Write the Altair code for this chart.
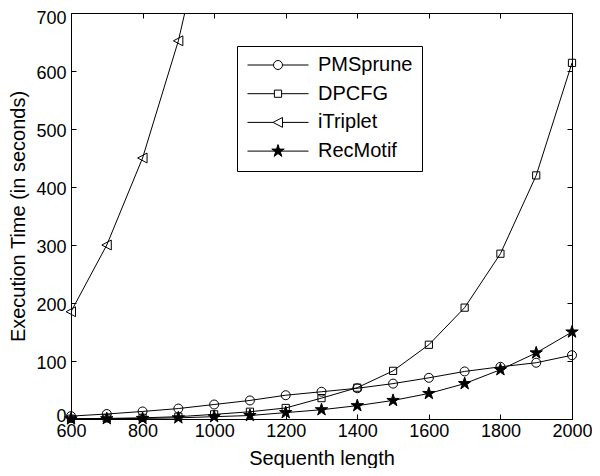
import math
import altair as alt
import pandas as pd

# ---- data ----
x_vals = [600, 700, 800, 900, 1000, 1100, 1200, 1300, 1400, 1500, 1600, 1700, 1800, 1900, 2000]
pmsprune = [5, 8.6, 13, 18, 25, 32, 41, 47, 53, 61, 71, 82, 90, 97, 110]
dpcfg = [0.5, 1, 2, 4, 8, 12.5, 19, 36, 54, 83, 128, 192, 285, 420, 614]
itriplet_x = [600, 700, 800, 900, 1000]
itriplet = [185, 300, 450, 652, 920]
recmotif = [0.2, 0.5, 1, 2, 4, 6, 11, 16, 23, 32, 44, 61, 85, 114, 150]
series_names = ["PMSprune", "DPCFG", "iTriplet", "RecMotif"]
x_ticks = [600, 800, 1000, 1200, 1400, 1600, 1800, 2000]
y_ticks = [0, 100, 200, 300, 400, 500, 600, 700]

rows = []
for name, xs, ys in [
    ("PMSprune", x_vals, pmsprune),
    ("DPCFG", x_vals, dpcfg),
    ("iTriplet", itriplet_x, itriplet),
    ("RecMotif", x_vals, recmotif),
]:
    for xv, yv in zip(xs, ys):
        rows.append({"series": name, "x": xv, "y": yv})
df = pd.DataFrame(rows)


# ---- marker shapes (unit-box SVG paths) ----
def star_path(R=1.45, ratio=0.382):
    pts = []
    for i in range(10):
        a = -math.pi / 2 + i * math.pi / 5
        r = R if i % 2 == 0 else R * ratio
        pts.append(f"{r * math.cos(a):.3f},{r * math.sin(a):.3f}")
    return "M" + "L".join(pts) + "Z"


circle = "M-1,0A1,1 0 1,1 1,0A1,1 0 1,1 -1,0Z"
square = "M-0.8,-0.8H0.8V0.8H-0.8Z"
tri_left = "M-1.1,0L1.0,-1.1L1.0,1.1Z"
star = star_path()
plot_paths = [circle, square, tri_left, star]

L = 6.78
legend_paths = [
    f"M{-L},0H-1M1,0H{L}" + circle,
    f"M{-L},0H-0.8M0.8,0H{L}" + square,
    f"M{-L},0H-1.1M1.0,0H{L}" + tri_left,
    f"M{-L},0H{L}" + star,
]
fills = ["transparent", "transparent", "transparent", "black"]
strokes = ["black", "black", "black", "black"]

FONT = "Liberation Sans"

xscale = alt.Scale(domain=[600, 2000], nice=False, zero=False)
yscale = alt.Scale(domain=[0, 700], nice=False)

base = alt.Chart(df)

lines = base.mark_line(color="black", strokeWidth=1, clip=True).encode(
    x=alt.X(
        "x:Q",
        scale=xscale,
        axis=alt.Axis(
            orient="bottom", values=x_ticks, format="d", title="Sequenth length",
            offset=-5, tickSize=5, domain=False, grid=False, labelFlush=False,
            labelPadding=3.5, titlePadding=8,
        ),
    ),
    y=alt.Y(
        "y:Q",
        scale=yscale,
        axis=alt.Axis(
            orient="left", values=y_ticks, format="d",
            title="Execution Time (in seconds)",
            offset=-5, tickSize=5, domain=False, grid=False, labelFlush=False,
            labelPadding=5, titlePadding=7,
            labelOffset={"condition": {"test": "datum.value == 700", "value": 5}, "value": 2},
            labelBaseline={"condition": {"test": "datum.value == 0", "value": "alphabetic"}, "value": "middle"},
        ),
    ),
    detail="series:N",
)

points = base.transform_filter("datum.y <= 700").mark_point(
    filled=True, size=81, stroke="black", strokeWidth=1, opacity=1
).encode(
    x=alt.X(
        "x:Q", scale=xscale,
        axis=alt.Axis(orient="top", values=x_ticks, labels=False, title=None,
                      offset=-5, tickSize=5, domain=False, grid=False),
    ),
    y=alt.Y(
        "y:Q", scale=yscale,
        axis=alt.Axis(orient="right", values=y_ticks, labels=False, title=None,
                      offset=-5, tickSize=5, domain=False, grid=False),
    ),
    shape=alt.Shape("series:N", scale=alt.Scale(domain=series_names, range=plot_paths), legend=None),
    fill=alt.Fill("series:N", scale=alt.Scale(domain=series_names, range=fills), legend=None),
)

legend_props = dict(
    orient="none", legendX=166, legendY=33, title=None,
    padding=9, strokeColor="black", fillColor="white", cornerRadius=0,
    labelFont=FONT, labelFontSize=20, labelColor="black",
    symbolSize=81, symbolOffset=22, labelOffset=30,
    symbolStrokeWidth=1, rowPadding=8.7,
)

legend_layer = base.transform_filter("datum.y < -1").mark_point(
    filled=True, size=81, strokeWidth=1, opacity=1
).encode(
    shape=alt.Shape("series:N", scale=alt.Scale(domain=series_names, range=legend_paths),
                    legend=alt.Legend(**legend_props)),
    fill=alt.Fill("series:N", scale=alt.Scale(domain=series_names, range=fills),
                  legend=alt.Legend(**legend_props)),
    stroke=alt.Stroke("series:N", scale=alt.Scale(domain=series_names, range=strokes),
                      legend=alt.Legend(**legend_props)),
)

chart = (
    alt.layer(lines, points, legend_layer)
    .resolve_axis(x="independent", y="independent")
    .resolve_scale(shape="independent", fill="independent", stroke="independent")
    .properties(
        width=501, height=406,
        autosize=alt.AutoSizeParams(type="none"),
        padding={"left": 63, "top": 5, "right": 20, "bottom": 49},
        background="white",
    )
    .configure_view(stroke="black", strokeWidth=1)
    .configure_axis(
        labelFont=FONT, titleFont=FONT, labelFontSize=18, titleFontSize=20,
        titleFontWeight="normal", labelColor="black", titleColor="black",
        tickColor="black", tickWidth=1,
    )
)

chart.save("out.html", embed_options={"renderer": "svg", "actions": False})
